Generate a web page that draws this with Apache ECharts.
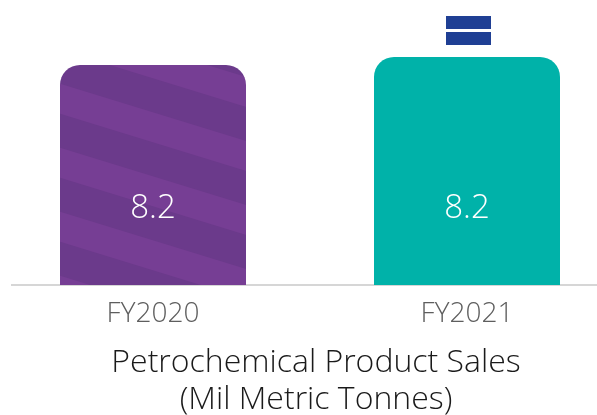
<!DOCTYPE html>
<html>
<head>
<meta charset="utf-8">
<script src="https://cdn.jsdelivr.net/npm/echarts@6/dist/echarts.min.js"></script>
<style>
  html, body { margin: 0; padding: 0; background: #fff; overflow: hidden; }
  /* chart box is a little wider than the window so the two bands land where the bars are */
  #chart { position: absolute; left: -4px; top: 0; width: 628px; height: 415px; }
</style>
</head>
<body>
<div id="chart"></div>
<script>
// data
const years = ["FY2020", "FY2021"];
const heights = [8.2, 8.5];      // bar heights as drawn
const valueLabels = ["8.2", "8.2"];
const titleLines = ["Petrochemical Product Sales", "(Mil Metric Tonnes)"];

const font = "Open Sans";

// diagonal stripe pattern for the FY2020 bar
const stripes = (() => {
  const P = 64, W = 208, m = P / W;
  const c = document.createElement("canvas");
  c.width = W; c.height = P;
  const g = c.getContext("2d");
  g.fillStyle = "#6b3a8b";
  g.fillRect(0, 0, W, P);
  g.fillStyle = "#763e94";
  for (let k = -1; k <= 1; k++) {
    const o = k * P;
    g.beginPath();
    g.moveTo(0, o);
    g.lineTo(W, o + m * W);
    g.lineTo(W, o + m * W + 30);
    g.lineTo(0, o + 30);
    g.closePath();
    g.fill();
  }
  return c;
})();

const colors = [{ image: stripes, repeat: "repeat" }, "#00b2a9"];

const chart = echarts.init(document.getElementById("chart"));
chart.setOption({
  animation: false,
  title: {
    text: titleLines.join("\n"),
    left: 315,
    top: 339,
    textAlign: "center",
    textStyle: { fontFamily: font, fontWeight: 300, fontSize: 32, lineHeight: 37, color: "#1a1a1a" },
  },
  grid: { left: 0, right: 0, top: 16.7, bottom: 130 },
  xAxis: {
    type: "category",
    data: years,
    axisLine: { show: false },
    axisTick: { show: false },
    axisLabel: { fontFamily: font, fontWeight: 300, fontSize: 28, color: "#5e5e5e", margin: 15 },
  },
  yAxis: { type: "value", min: 0, max: 10, show: false, splitLine: { show: false } },
  series: [
    {
      type: "bar",
      barWidth: 186,
      data: heights.map((v, i) => ({
        value: v,
        itemStyle: { color: colors[i], borderRadius: [20, 20, 0, 0] },
      })),
      label: {
        show: true,
        position: "insideBottom",
        distance: 60,
        formatter: (p) => valueLabels[p.dataIndex],
        fontFamily: font,
        fontWeight: 300,
        fontSize: 33,
        color: "#fff",
      },
      markPoint: {
        silent: true,
        symbol: "path://M0,0H45V13H0Z M0,16H45V29H0Z",
        symbolSize: [45, 29],
        symbolOffset: [1.5, -26.5],
        itemStyle: { color: "#1f3f94" },
        label: { show: false },
        data: [{ coord: [years[1], heights[1]] }],
      },
    },
  ],
  graphic: [
    { type: "line", shape: { x1: 15, y1: 285, x2: 640, y2: 285 }, style: { stroke: "#c8c8c8", lineWidth: 1.5 } },
  ],
});
</script>
</body>
</html>
